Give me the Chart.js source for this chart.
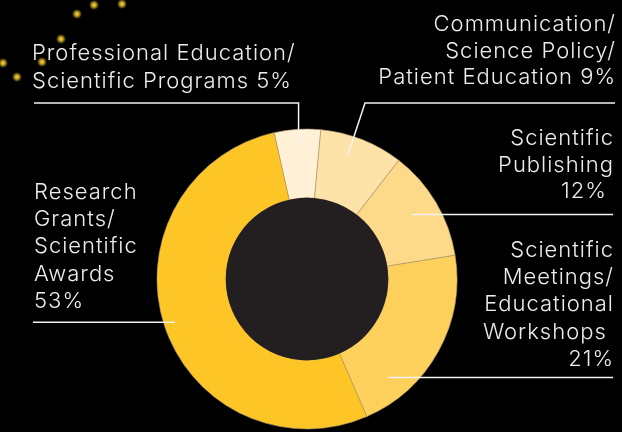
<!DOCTYPE html>
<html>
<head>
<meta charset="utf-8">
<script src="https://cdn.jsdelivr.net/npm/chart.js@4.4.1/dist/chart.umd.min.js"></script>
<style>
  html, body { margin: 0; padding: 0; background: #000; }
  #wrap { width: 622px; height: 432px; position: relative; }
</style>
</head>
<body>
<div id="wrap"><canvas id="budgetChart" width="622" height="432"></canvas></div>
<script>
// data (slice order runs clockwise from just left of the top)
const categories = [
  'Professional Education/Scientific Programs',
  'Communication/Science Policy/Patient Education',
  'Scientific Publishing',
  'Scientific Meetings/Educational Workshops',
  'Research Grants/Scientific Awards'
];
const shares = [5, 9, 12, 21, 53];
const sliceColors = ['#fff0d6', '#fee3a9', '#fdd98a', '#fdd05c', '#fdc526'];

// text of each callout, percentage taken from shares
const labelLines = [
  ['Professional Education/', 'Scientific Programs ' + shares[0] + '%'],
  ['Communication/', 'Science Policy/', 'Patient Education ' + shares[1] + '%'],
  ['Scientific', 'Publishing', shares[2] + '% '],
  ['Scientific', 'Meetings/', 'Educational', 'Workshops ', shares[3] + '%'],
  ['Research', 'Grants/', 'Scientific', 'Awards', shares[4] + '%']
];

// callout layout: text anchor + where the leader meets the ring (t along arc, k across ring)
const callouts = [
  { x: 32,  align: 'left',  y: 60,  lh: 27.5, t: 0.5,  k: 0.72, kind: 'elbow', shelfY: 103, edge: 34 },
  { x: 616, align: 'right', y: 31,  lh: 26.5, t: 0.40, k: 0.72, kind: 'diag',  shelfY: 103, edge: 615, corner: 365 },
  { x: 614, align: 'right', y: 145, lh: 26.5, t: 0.48, k: 0.61, kind: 'flat',  edge: 613 },
  { x: 614, align: 'right', y: 257, lh: 27.2, t: 0.79, k: 0.67, kind: 'flat',  edge: 613 },
  { x: 34,  align: 'left',  y: 199, lh: 27.2, t: 0.5,  k: 0.84, kind: 'flat',  edge: 33 }
];

// little yellow sparkles in the top-left corner (decoration only)
const sparkles = [[94, 5], [122, 4], [77, 14], [61, 39], [3, 63], [42, 62], [17, 77]];

const overlay = {
  id: 'overlay',
  beforeDraw(chart) {
    const ctx = chart.ctx;
    ctx.save();
    ctx.fillStyle = '#000';
    ctx.fillRect(0, 0, chart.width, chart.height);
    sparkles.forEach(([sx, sy]) => {
      const g = ctx.createRadialGradient(sx, sy, 0, sx, sy, 5);
      g.addColorStop(0, 'rgba(255,222,80,1)');
      g.addColorStop(0.4, 'rgba(240,200,40,0.8)');
      g.addColorStop(1, 'rgba(240,200,40,0)');
      ctx.fillStyle = g;
      ctx.beginPath(); ctx.arc(sx, sy, 5, 0, Math.PI * 2); ctx.fill();
    });
    ctx.restore();
  },
  afterDatasetsDraw(chart) {
    const ctx = chart.ctx;
    const arcs = chart.getDatasetMeta(0).data;
    const a0 = arcs[0];
    ctx.save();
    // dark centre
    ctx.fillStyle = '#231f20';
    ctx.beginPath(); ctx.arc(a0.x, a0.y, a0.innerRadius, 0, Math.PI * 2); ctx.fill();

    ctx.strokeStyle = '#f2f2f2';
    ctx.lineWidth = 1.5;
    ctx.fillStyle = '#ececec';
    ctx.font = '300 22px Inter';
    ctx.letterSpacing = '1px';
    ctx.textBaseline = 'alphabetic';

    callouts.forEach((c, i) => {
      const a = arcs[i];
      const ang = a.startAngle + c.t * (a.endAngle - a.startAngle);
      const r = a.innerRadius + c.k * (a.outerRadius - a.innerRadius);
      const px = a.x + r * Math.cos(ang);
      const py = a.y + r * Math.sin(ang);
      ctx.beginPath();
      if (c.kind === 'elbow') {
        ctx.moveTo(c.edge, c.shelfY); ctx.lineTo(px, c.shelfY); ctx.lineTo(px, py);
      } else if (c.kind === 'diag') {
        ctx.moveTo(c.edge, c.shelfY); ctx.lineTo(c.corner, c.shelfY); ctx.lineTo(px, py);
      } else {
        ctx.moveTo(c.edge, py); ctx.lineTo(px, py);
      }
      ctx.stroke();

      ctx.textAlign = c.align;
      labelLines[i].forEach((ln, j) => ctx.fillText(ln, c.x, c.y + j * c.lh));
    });
    ctx.restore();
  }
};

new Chart(document.getElementById('budgetChart').getContext('2d'), {
  type: 'doughnut',
  data: {
    labels: categories,
    datasets: [{
      data: shares,
      backgroundColor: sliceColors,
      borderColor: '#b49c70',
      borderWidth: 0.6,
      hoverOffset: 0
    }]
  },
  options: {
    responsive: false,
    animation: false,
    devicePixelRatio: 1,
    rotation: -12.7,
    radius: 150,
    cutout: 81,
    layout: { padding: { left: 157, right: 165, top: 129, bottom: 3 } },
    plugins: { legend: { display: false }, tooltip: { enabled: false } }
  },
  plugins: [overlay]
});
</script>
</body>
</html>
